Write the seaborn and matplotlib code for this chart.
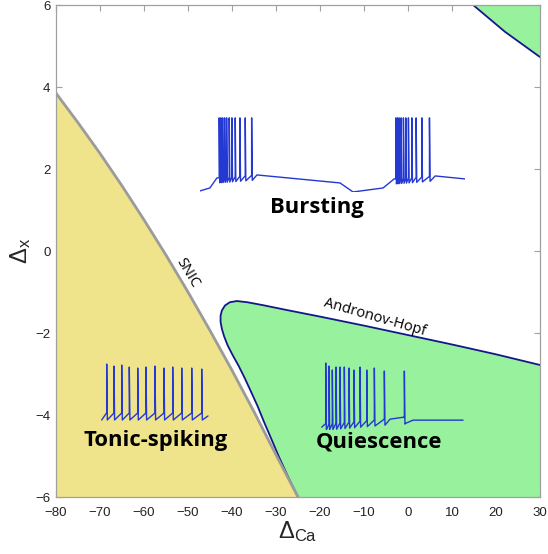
import numpy as np
import matplotlib
matplotlib.use("Agg")
import matplotlib.pyplot as plt
import seaborn as sns

# ---------------- data ----------------
X_TICKS = [-80, -70, -60, -50, -40, -30, -20, -10, 0, 10, 20, 30]
Y_TICKS = [-6, -4, -2, 0, 2, 4, 6]

# SNIC bifurcation curve
SNIC_X = [-80, -75, -70, -65, -60, -55, -50, -45, -40, -35, -30, -25]
SNIC_Y = [3.85, 3.13, 2.38, 1.59, 0.76, -0.10, -1.00, -1.94, -2.91, -3.92, -4.97, -6.0]

# Andronov-Hopf curve (lower region)
HOPF_X = [30, 20, 10, 0, -10, -20, -28, -33, -36.5, -38.9, -40.5, -41.6, -42.3, -42.6,
          -42.6, -42.3, -41.8, -41.0, -39.8, -38.5, -37.2, -35.9, -34.2, -32.8, -31.0,
          -29.3, -27.2, -25]
HOPF_Y = [-2.78, -2.52, -2.28, -2.05, -1.82, -1.6, -1.43, -1.32, -1.25, -1.22, -1.25,
          -1.33, -1.45, -1.58, -1.73, -1.9, -2.08, -2.3, -2.55, -2.8, -3.08, -3.38, -3.78,
          -4.15, -4.6, -5.03, -5.52, -6]

# Andronov-Hopf curve (upper-right corner)
HOPF2_X = [14.8, 22, 30]
HOPF2_Y = [6.0, 5.35, 4.73]

# Example voltage traces (arbitrary time / voltage units)
BURST_BASE_T = [0, 10, 17, 57, 140, 153, 183, 194, 235, 265]
BURST_BASE_V = [1, 4, 14, 17, 9, 0, 4, 13, 16, 13]
BURST_SPIKE_T = [19.3, 21, 22.7, 24.7, 26.7, 29.3, 32, 35.3, 40, 45.3, 51.7,
                 195.7, 197.3, 199, 201, 203.3, 205.7, 208.3, 211.7, 216, 221.7, 229.3]
BURST_SPIKE_V = [74] * 22

TONIC_BASE_T = [1.7, 6.5, 101.7, 108]
TONIC_BASE_V = [2, 9, 9, 6]
TONIC_SPIKE_T = [6.7, 14, 21.7, 29.3, 37.7, 46, 55, 64, 72.7, 81.7, 91.7, 101.7]
TONIC_SPIKE_V = [58, 56, 57, 55, 54, 55, 56, 54, 55, 54, 54, 53]

QUIES_BASE_T = [3.7, 7.0, 66.3, 72, 86, 88, 95, 145]
QUIES_BASE_V = [3, 6, 11, 11, 13, 7, 10, 10]
QUIES_SPIKE_T = [7.7, 11, 14.3, 18, 22, 26.3, 31, 36, 42, 48.7, 56.3, 66.3, 86.3]
QUIES_SPIKE_V = [67, 64, 60, 63, 63, 63, 62, 60, 63, 60, 62, 59, 59]

REGION_LABELS = ["Bursting", "Tonic-spiking", "Quiescence"]
REGION_POS = [(-20.8, 1.07), (-57.3, -4.63), (-6.5, -4.65)]

# ---------------- style ----------------
sns.set_theme(style="ticks")
plt.rcParams["font.family"] = ["Liberation Sans", "DejaVu Sans"]
plt.rcParams["mathtext.fontset"] = "custom"
plt.rcParams["mathtext.rm"] = "Liberation Sans"
plt.rcParams["mathtext.it"] = "Liberation Sans"

YELLOW = "#EFE38C"
GREEN = "#98F19C"
NAVY = "#16168C"
GRAY = "#9B9B9B"
TRACE = "#2438D2"

fig = plt.figure(figsize=(5.48, 5.54), dpi=100)
ax = fig.add_axes([56 / 548, 57 / 554, 484 / 548, 492 / 554])
ax.set_xlim(-80, 30)
ax.set_ylim(-6, 6)

# regions
ax.fill(SNIC_X + [-80], SNIC_Y + [-6], color=YELLOW, lw=0, zorder=1)
ax.fill(HOPF_X + [30], HOPF_Y + [-6], color=GREEN, lw=0, zorder=1)
ax.fill(HOPF2_X + [30], HOPF2_Y + [6], color=GREEN, lw=0, zorder=1)

sns.lineplot(x=HOPF_X, y=HOPF_Y, sort=False, estimator=None, ax=ax, color=NAVY, lw=1.3, zorder=3)
sns.lineplot(x=HOPF2_X, y=HOPF2_Y, sort=False, estimator=None, ax=ax, color=NAVY, lw=1.3, zorder=3)
sns.lineplot(x=SNIC_X, y=SNIC_Y, sort=False, estimator=None, ax=ax, color=GRAY, lw=2.0, zorder=4)

# curve labels
ax.text(-50.0, -0.54, "SNIC", rotation=-59, ha="center", va="center", color="black",
        fontsize=10.5, family=["Open Sans", "DejaVu Sans"], zorder=5)
ax.text(-7.5, -1.62, "Andronov-Hopf", rotation=-16, ha="center", va="center", color="black",
        fontsize=10.5, family=["Open Sans", "DejaVu Sans"], zorder=5)

for lab, (lx, ly) in zip(REGION_LABELS, REGION_POS):
    ax.text(lx, ly, lab, ha="center", va="center", fontsize=15.8, fontweight="bold",
            color="black", family=["Open Sans", "DejaVu Sans"], zorder=5)


def build_trace(base_t, base_v, spike_t, spike_v, dip):
    pts = list(zip(base_t, base_v))
    for ts, pk in zip(spike_t, spike_v):
        b = float(np.interp(ts, base_t, base_v))
        pts += [(ts - 0.01, b), (ts, pk), (ts + 0.6, b - dip)]
    pts.sort(key=lambda p: p[0])
    t, v = zip(*pts)
    return list(t), list(v)


def add_trace(bounds, xlim, ylim, base_t, base_v, spike_t, spike_v, dip):
    iax = ax.inset_axes(bounds, transform=ax.transData, zorder=4)
    t, v = build_trace(base_t, base_v, spike_t, spike_v, dip)
    sns.lineplot(x=t, y=v, sort=False, estimator=None, ax=iax, color=TRACE, lw=1.0)
    iax.set_xlim(*xlim)
    iax.set_ylim(*ylim)
    iax.set_xticks([])
    iax.set_yticks([])
    iax.set_xlabel("")
    iax.set_ylabel("")
    iax.set_axis_off()
    iax.patch.set_alpha(0)


add_trace([-47.3, 1.44, 60.3, 1.88], (0, 265), (0, 77),
          BURST_BASE_T, BURST_BASE_V, BURST_SPIKE_T, BURST_SPIKE_V, 5)
add_trace([-70.0, -4.17, 25.0, 1.51], (0, 110), (0, 62),
          TONIC_BASE_T, TONIC_BASE_V, TONIC_SPIKE_T, TONIC_SPIKE_V, 7)
add_trace([-20.45, -4.37, 33.65, 1.76], (0, 148), (0, 72),
          QUIES_BASE_T, QUIES_BASE_V, QUIES_SPIKE_T, QUIES_SPIKE_V, 6)

# axes styling
ax.set_xticks(X_TICKS)
ax.set_yticks(Y_TICKS)
ax.tick_params(direction="in", top=True, right=True, length=4, width=0.8,
               color="#A0A0A0", labelsize=9.5, labelcolor="#222222")
ax.tick_params(axis="x", pad=7)
ax.tick_params(axis="y", pad=4)
for s in ax.spines.values():
    s.set_color("#A0A0A0")
    s.set_linewidth(0.9)
    s.set_zorder(6)
ax.set_xlabel(r"$\Delta_{\rm Ca}$", fontsize=17, labelpad=0)
ax.set_ylabel(r"$\Delta_{\rm x}$", fontsize=17, labelpad=2)

fig.savefig("out.png", dpi=100)
